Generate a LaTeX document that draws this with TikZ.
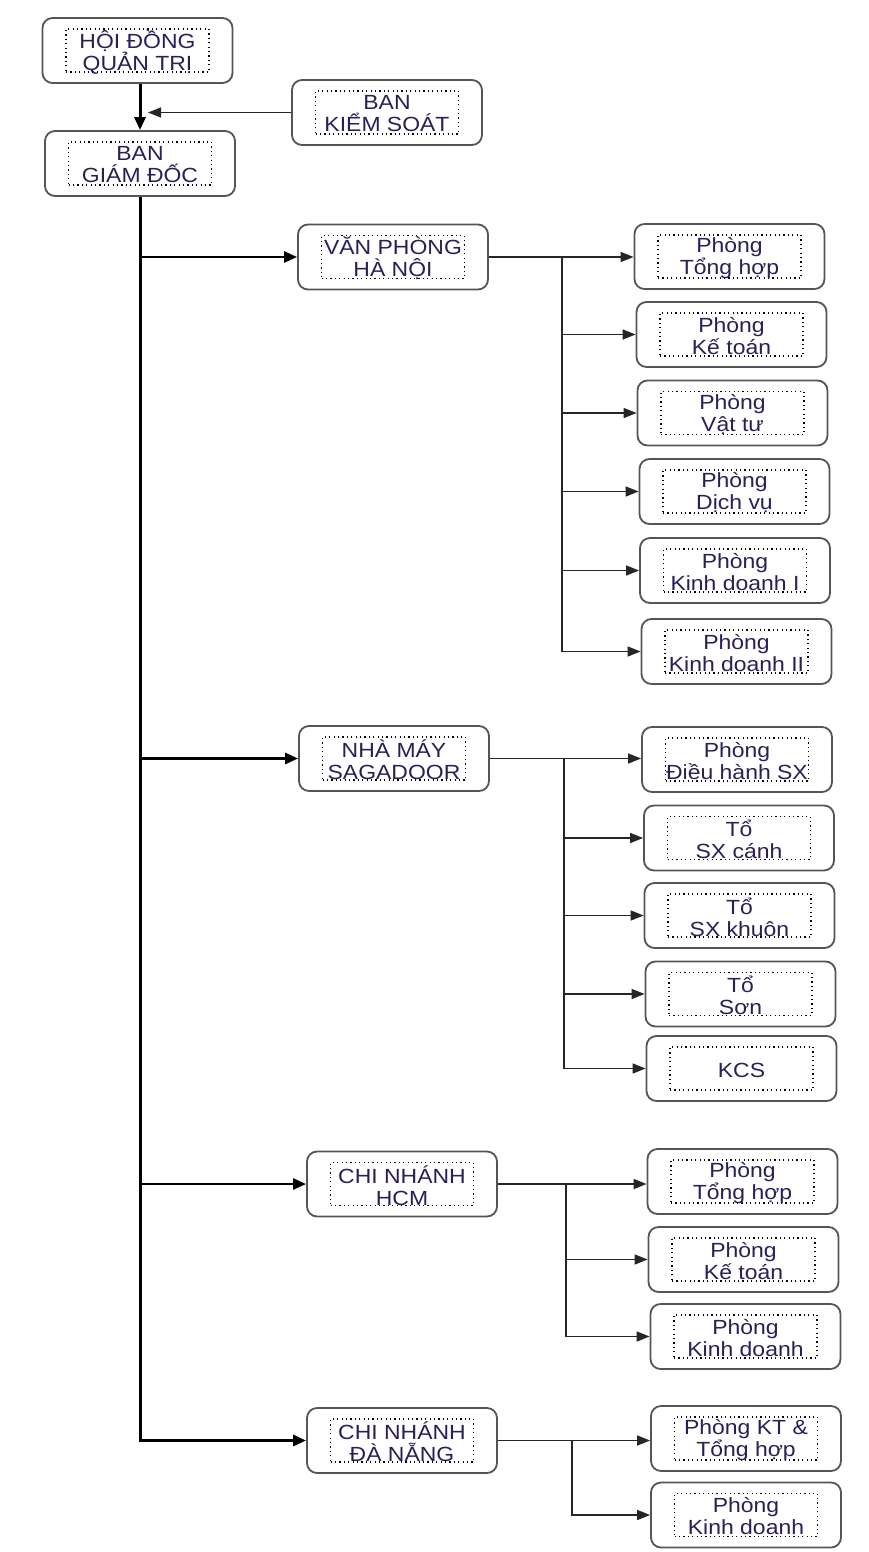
\documentclass[tikz,border=0pt]{standalone}
\usepackage{fontspec}
\setmainfont{Liberation Sans}[FakeStretch=1.12]
\usetikzlibrary{arrows.meta}
\definecolor{txtcol}{RGB}{38,34,88}
\definecolor{boxcol}{RGB}{85,85,85}
\newcommand\orgbox[3]{%
  \node[obox] (#1) at (#2) {};
  \node[ibox] (#1-i) at (#1.center) {};
  \node[txt] (#1-t) at (#1.center) {#3};}
\begin{document}
\begin{tikzpicture}[x=1pt,y=-1pt,
  obox/.style={draw=boxcol, line width=1.8pt, rounded corners=10pt, fill=white,
    minimum width=190pt, minimum height=65pt, inner sep=0pt},
  ibox/.style={draw=black, line width=1.2pt, dash pattern=on 1.2pt off 3.2pt,
    minimum width=143pt, minimum height=43pt, inner sep=0pt},
  txt/.style={text=txtcol, font=\fontsize{20.5}{22}\selectfont, align=center, inner sep=0pt, yshift=-1.5pt},
  trunk/.style={line width=3pt, draw=black, -{Triangle[length=13pt,width=11pt]}},
  mainarr/.style={line width=2.7pt, draw=black, -{Triangle[length=13pt,width=11pt]}},
  subline/.style={line width=1.5pt, draw=black!85, line cap=rect},
  subarr/.style={line width=1.5pt, draw=black!85, -{Triangle[length=13pt,width=10pt]}},
]
\fill[white] (0,0) rectangle (869,1552);
\useasboundingbox (0,0) rectangle (869,1552);

% top level
\orgbox{hdqt}{137.5,50.5}{HỘI ĐỒNG\\QUẢN TRỊ}
\orgbox{bgd}{140,163.5}{BAN\\GIÁM ĐỐC}
\orgbox{bks}{387,112.5}{BAN\\KIỂM SOÁT}

% level 2
\orgbox{vphn}{393,257}{VĂN PHÒNG\\HÀ NỘI}
\orgbox{nm}{394,758.5}{NHÀ MÁY\\SAGADOOR}
\orgbox{hcm}{402,1184}{CHI NHÁNH\\HCM}
\orgbox{dn}{402,1440.5}{CHI NHÁNH\\ĐÀ NẴNG}

% level 3 - Ha Noi
\orgbox{hn1}{729.5,256.5}{Phòng\\Tổng hợp}
\orgbox{hn2}{731.5,334.5}{Phòng\\Kế toán}
\orgbox{hn3}{732.5,413}{Phòng\\Vật tư}
\orgbox{hn4}{734.5,491.5}{Phòng\\Dịch vụ}
\orgbox{hn5}{735,570.5}{Phòng\\Kinh doanh I}
\orgbox{hn6}{736.5,651.5}{Phòng\\Kinh doanh II}

% level 3 - Nha may
\orgbox{nm1}{737,759.5}{Phòng\\Điều hành SX}
\orgbox{nm2}{739,838}{Tổ\\SX cánh}
\orgbox{nm3}{739.5,915.5}{Tổ\\SX khuôn}
\orgbox{nm4}{740.5,994}{Tổ\\Sơn}
\orgbox{nm5}{741.5,1068.5}{KCS}

% level 3 - HCM
\orgbox{hcm1}{742.5,1181.5}{Phòng\\Tổng hợp}
\orgbox{hcm2}{743.5,1259.5}{Phòng\\Kế toán}
\orgbox{hcm3}{745.5,1336.5}{Phòng\\Kinh doanh}

% level 3 - Da Nang
\orgbox{dn1}{746,1438.5}{Phòng KT \&\\Tổng hợp}
\orgbox{dn2}{746,1515}{Phòng\\Kinh doanh}

% top connectors
\draw[mainarr, line width=3pt] (hdqt.south -| bgd.north) -- (bgd.north);
\coordinate (kend) at (148,112.5);
\draw[subarr] (bks.west) -- (kend);

% trunk
\draw[trunk] (bgd.south) |- (dn.west);
\draw[mainarr] (bgd.south |- vphn.west) -- (vphn.west);
\draw[mainarr] (bgd.south |- nm.west) -- (nm.west);
\draw[mainarr] (bgd.south |- hcm.west) -- (hcm.west);

% buses
\coordinate (bhn) at (562,257);
\coordinate (bnm) at (564,758.5);
\coordinate (bhcm) at (566,1184);
\coordinate (bdn) at (572,1440.5);

\draw[subarr] (vphn.east) -- (vphn.east -| hn1.west);
\draw[subline] (bhn) -- (bhn |- hn6.west);
\foreach \c in {hn2,hn3,hn4,hn5,hn6}{\draw[subarr] (bhn |- \c.west) -- (\c.west);}

\draw[subarr] (nm.east) -- (nm.east -| nm1.west);
\draw[subline] (bnm) -- (bnm |- nm5.west);
\foreach \c in {nm2,nm3,nm4,nm5}{\draw[subarr] (bnm |- \c.west) -- (\c.west);}

\draw[subarr] (hcm.east) -- (hcm.east -| hcm1.west);
\draw[subline] (bhcm) -- (bhcm |- hcm3.west);
\foreach \c in {hcm2,hcm3}{\draw[subarr] (bhcm |- \c.west) -- (\c.west);}

\draw[subarr] (dn.east) -- (dn.east -| dn1.west);
\draw[subline] (bdn) -- (bdn |- dn2.west);
\foreach \c in {dn2}{\draw[subarr] (bdn |- \c.west) -- (\c.west);}
\end{tikzpicture}
\end{document}
